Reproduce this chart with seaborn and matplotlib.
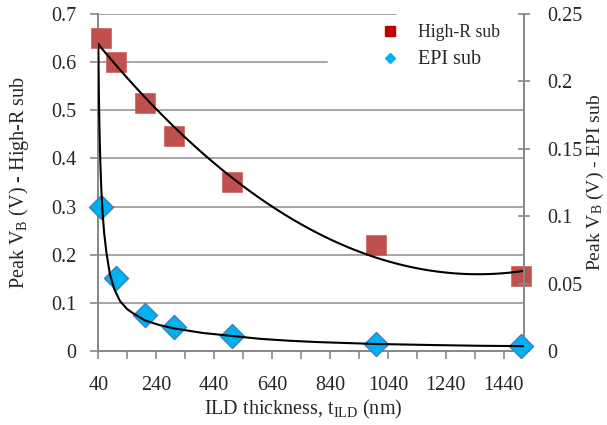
import numpy as np
import pandas as pd
import matplotlib
matplotlib.use("Agg")
import matplotlib.pyplot as plt
from matplotlib.lines import Line2D
import seaborn as sns

# ---- data ----
thickness_nm = [50, 100, 200, 300, 500, 1000, 1500]
highr_vb = [0.65, 0.60, 0.515, 0.447, 0.351, 0.22, 0.156]
epi_vb = [0.107, 0.054, 0.027, 0.018, 0.011, 0.0052, 0.0035]

# EPI trend line
epi_trend_x = [40, 42, 44, 47, 50, 54, 60, 68, 80, 95, 115, 140, 160, 200, 250,
               300, 400, 500, 600, 700, 800, 1000, 1200, 1350, 1510]
epi_trend_y = [0.228, 0.19, 0.165, 0.14, 0.122, 0.105, 0.088, 0.073, 0.057, 0.046,
               0.037, 0.031, 0.028, 0.0228, 0.0193, 0.0168, 0.0134, 0.0112, 0.0090,
               0.0076, 0.0066, 0.0052, 0.0044, 0.0039, 0.0036]

x_ticks = [40, 140, 240, 340, 440, 540, 640, 740, 840, 940, 1040, 1140, 1240, 1340, 1440]
x_tick_labels = ["40", "", "240", "", "440", "", "640", "", "840", "", "1040", "", "1240", "", "1440"]
left_ticks = [0, 0.1, 0.2, 0.3, 0.4, 0.5, 0.6, 0.7]
left_tick_labels = ["0", "0.1", "0.2", "0.3", "0.4", "0.5", "0.6", "0.7"]
right_ticks = [0, 0.05, 0.1, 0.15, 0.2, 0.25]
right_tick_labels = ["0", "0.05", "0.1", "0.15", "0.2", "0.25"]
series_labels = ["High-R sub", "EPI sub"]

sns.set_style("white")
plt.rcParams["font.family"] = ["Liberation Serif", "DejaVu Serif"]
plt.rcParams["mathtext.fontset"] = "custom"
plt.rcParams["mathtext.rm"] = "Liberation Serif"
plt.rcParams["mathtext.it"] = "Liberation Serif:italic"
plt.rcParams["mathtext.bf"] = "Liberation Serif:bold"

W, H = 607, 425
fig = plt.figure(figsize=(W / 100, H / 100), dpi=100)
L, R, T, B = 98.3, 524.0, 14.0, 351.0
ax = fig.add_axes([L / W, 1 - B / H, (R - L) / W, (B - T) / H])
ax2 = ax.twinx()

GRID = "#A6A6A6"
AXC = "#878787"
FS = 14.5

ax.set_xlim(40, 1510)
ax.set_ylim(0, 0.7)
ax2.set_ylim(0, 0.25)

# gridlines (0.6 and 0.7 lines are cut by the legend area)
for yv in left_ticks[1:]:
    xmax = 1.0
    if yv == 0.6:
        xmax = (327 - L) / (R - L)
    elif yv == 0.7:
        xmax = (396 - L) / (R - L)
    ax.axhline(yv, xmin=0, xmax=xmax, color=GRID, lw=1.4, zorder=0)

df = pd.DataFrame({"t": thickness_nm, "highr": highr_vb, "epi": epi_vb})

sns.scatterplot(data=df, x="t", y="highr", marker="s", s=210, color="#C0504D",
                edgecolor="#C9605D", linewidth=0.5, ax=ax, zorder=3, legend=False,
                clip_on=False)
sns.regplot(data=df, x="t", y="highr", order=2, ci=None, scatter=False, truncate=False,
            line_kws=dict(color="black", lw=1.5, zorder=4), ax=ax)

sns.scatterplot(data=df, x="t", y="epi", marker="D", s=150, color="#00B0F0",
                edgecolor="#3C7FC0", linewidth=1.0, ax=ax2, zorder=3, legend=False,
                clip_on=False)
sns.lineplot(x=epi_trend_x, y=epi_trend_y, color="black", lw=1.5, ax=ax2, zorder=4)

# axes styling
for a in (ax, ax2):
    for s in a.spines.values():
        s.set_visible(False)
ax.spines["left"].set_visible(True)
ax.spines["bottom"].set_visible(True)
ax2.spines["right"].set_visible(True)
for s in (ax.spines["left"], ax.spines["bottom"], ax2.spines["right"]):
    s.set_color(AXC)
    s.set_linewidth(1.4)

ax.set_xticks(x_ticks)
ax.set_xticklabels(x_tick_labels)
ax.set_yticks(left_ticks)
ax.set_yticklabels(left_tick_labels)
ax2.set_yticks(right_ticks)
ax2.set_yticklabels(right_tick_labels)

ax.tick_params(axis="x", direction="out", length=6, width=1.2, color=AXC, pad=12,
               labelsize=FS, bottom=True)
ax.tick_params(axis="y", direction="out", length=6, width=1.2, color=AXC, pad=10,
               labelsize=FS, left=True, right=False)
ax2.tick_params(axis="y", direction="inout", length=8, width=1.2, color=AXC, pad=13,
                labelsize=FS, right=True)

ax.set_xlabel(r"ILD thickness, t$_\mathrm{ILD}$ (nm)", fontsize=FS)
ax.set_ylabel(r"Peak V$_\mathrm{B}$ (V) - High-R sub", fontsize=FS)
ax2.set_ylabel(r"Peak V$_\mathrm{B}$ (V) - EPI sub", fontsize=14, rotation=90)
ax.xaxis.set_label_coords((303.5 - L) / (R - L), -0.14)
ax.yaxis.set_label_coords((19 - L) / (R - L), 0.5)
ax2.yaxis.set_label_coords((595 - L) / (R - L), 0.5)
ax2.yaxis.label.set_verticalalignment("center")
ax.yaxis.label.set_verticalalignment("center")

handles = [
    Line2D([], [], marker="s", ls="none", color="#C00000", markersize=7),
    Line2D([], [], marker="D", ls="none", color="#00B0F0", markersize=5.5),
]
leg = ax2.legend(handles, series_labels, loc="upper left",
                 bbox_to_anchor=((364 - L) / (R - L), 1.015), frameon=False,
                 fontsize=13.5, handlelength=1.2, handletextpad=0.9,
                 labelspacing=0.5, borderpad=0.3)
leg.get_texts()[0].set_fontsize(12.8)
leg.get_texts()[1].set_fontsize(14.5)

fig.savefig("out.png", dpi=100)
